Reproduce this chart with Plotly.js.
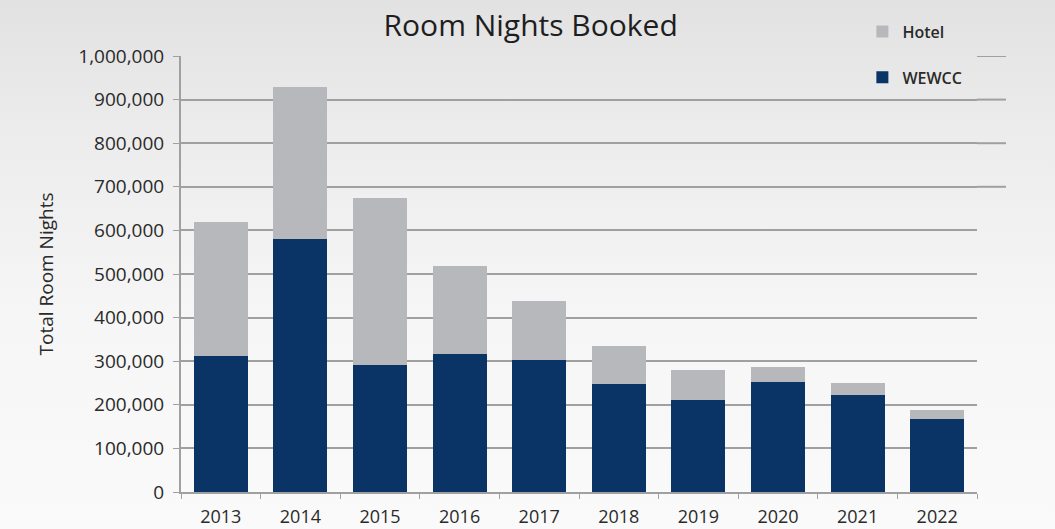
<!DOCTYPE html>
<html>
<head>
<meta charset="utf-8">
<script src="https://cdn.plot.ly/plotly-3.0.1.min.js"></script>
<style>
  html, body { margin: 0; padding: 0; }
  #chart {
    width: 1055px; height: 529px;
    background: linear-gradient(to bottom, #e2e2e2 0%, #ececec 25%, #f6f6f6 60%, #fafafa 100%);
  }
</style>
</head>
<body>
<div id="chart"></div>
<script>
const years = ['2013','2014','2015','2016','2017','2018','2019','2020','2021','2022'];
const wewcc = [312000, 580000, 291000, 316000, 303000, 247000, 211000, 253000, 222000, 168000];
const hotel = [308000, 348000, 383000, 203000, 136000, 89000, 69000, 34000, 27000, 20000];
const yTicks = [0,100000,200000,300000,400000,500000,600000,700000,800000,900000,1000000];
const extendedGrid = [700000, 800000, 900000, 1000000];

const FONT = '"Open Sans", "Liberation Sans", sans-serif';
const TXT = '#2a2a2a';
const GRID = '#a0a0a0';

const traces = [
  {
    type: 'bar', name: 'WEWCC', x: years, y: wewcc,
    marker: { color: '#0a3366' }, legendgroup: 'w', legendrank: 2, hoverinfo: 'skip'
  },
  {
    type: 'bar', name: 'Hotel', x: years, y: hotel,
    marker: { color: '#b6b8bb' }, legendgroup: 'h', legendrank: 1, hoverinfo: 'skip'
  }
];

const shapes = extendedGrid.map(v => ({
  type: 'line', xref: 'paper', yref: 'y',
  x0: 1, x1: 1.0364, y0: v, y1: v,
  line: { color: GRID, width: 2 }, layer: 'below'
}));

const layout = {
  width: 1055, height: 529,
  paper_bgcolor: 'rgba(0,0,0,0)',
  plot_bgcolor: 'rgba(0,0,0,0)',
  margin: { l: 181, r: 78, t: 56, b: 37, pad: 0 },
  barmode: 'stack',
  bargap: 0.32,
  font: { family: FONT, color: TXT },
  title: {
    text: 'Room Nights Booked',
    font: { family: FONT, size: 30, color: '#1e1e1e' },
    x: 0.503, xanchor: 'center', xref: 'container',
    y: 0.952, yanchor: 'middle', yref: 'container'
  },
  xaxis: {
    type: 'category',
    showgrid: false,
    showline: true, linecolor: GRID, linewidth: 2,
    ticks: 'outside', tickson: 'boundaries', ticklen: 5, tickcolor: GRID, tickwidth: 1,
    tickfont: { family: FONT, size: 18, color: TXT },
    ticklabelstandoff: 7,
    fixedrange: true
  },
  yaxis: {
    range: [0, 1000000],
    tickvals: yTicks,
    tickformat: ',d',
    showgrid: true, gridcolor: GRID, gridwidth: 2,
    showline: true, linecolor: GRID, linewidth: 2,
    ticks: 'outside', ticklen: 6, tickcolor: GRID, tickwidth: 1,
    zeroline: false,
    tickfont: { family: FONT, size: 19, color: TXT },
    ticklabelstandoff: 5,
    title: {
      text: 'Total Room Nights',
      font: { family: FONT, size: 19, color: TXT },
      standoff: 20
    },
    fixedrange: true
  },
  showlegend: true,
  legend: {
    x: 0.856, xanchor: 'left',
    y: 1.095, yanchor: 'top',
    traceorder: 'grouped',
    bgcolor: 'rgba(0,0,0,0)',
    font: { family: FONT, size: 16, color: TXT, weight: 600 },
    tracegroupgap: 22,
    itemwidth: 30
  },
  shapes: shapes
};

Plotly.newPlot('chart', traces, layout, { displayModeBar: false, staticPlot: true });
</script>
</body>
</html>
